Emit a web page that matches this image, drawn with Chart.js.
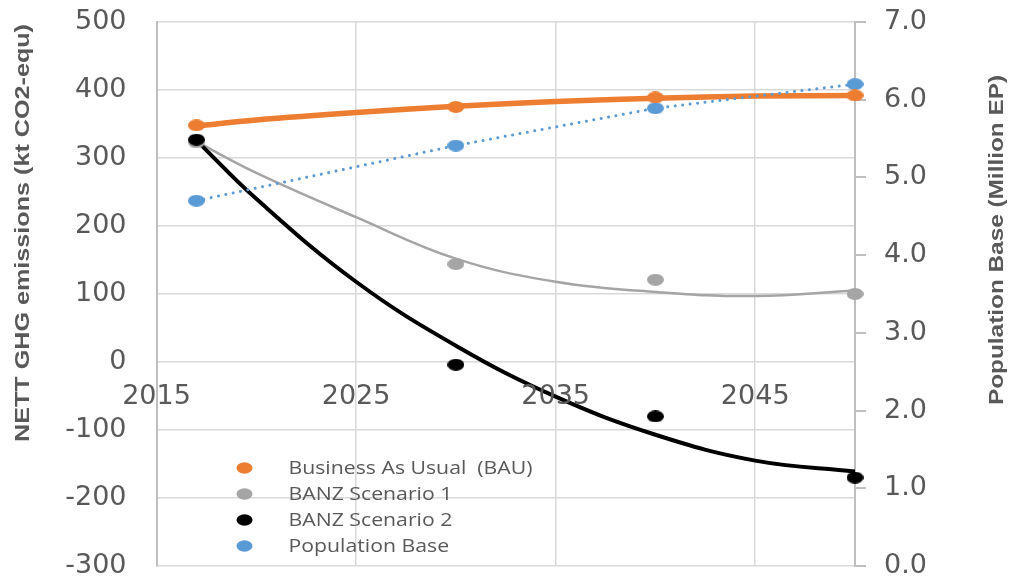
<!DOCTYPE html>
<html>
<head>
<meta charset="utf-8">
<script src="https://cdn.jsdelivr.net/npm/chart.js@4.4.1/dist/chart.umd.min.js"></script>
<style>
  html, body { margin: 0; padding: 0; background: #fff; }
  #wrap { width: 1016px; height: 584px; }
</style>
</head>
<body>
<div id="wrap"><canvas id="ghgChart"></canvas></div>
<script>
// values
const years = [2017, 2030, 2040, 2050];
const bauPoints = [348, 375, 389, 392];
const banz1Points = [323, 144, 121, 100];
const banz2Points = [327, -4, -80, -170];
const popPoints = [4.70, 5.41, 5.89, 6.20];

// trend lines (polynomial in the original), read at a few years
const trendYears = [2017, 2020, 2025, 2030, 2035, 2040, 2045, 2050];
const bauTrend = [347, 356, 367, 376, 383, 388, 391, 392];
const banz1Trend = [324, 278, 213, 152, 118, 103, 97, 105];
const banz2Trend = [326, 240, 118, 24, -51, -107, -145, -161];

const xTicks = [2015, 2025, 2035, 2045];
const legendNames = ["Business As Usual  (BAU)", "BANZ Scenario 1", "BANZ Scenario 2", "Population Base"];
const colors = ["#ED7D31", "#A5A5A5", "#000000", "#5B9BD5"];
const leftTitle = "NETT GHG emissions (kt CO2-equ)";
const rightTitle = "Population Base (Million EP)";

const textGrey = "#595959";
const tickFont = { family: "DejaVu Sans", size: 27 };

function toXY(xs, ys) {
  return xs.map((x, i) => ({ x: x, y: ys[i] }));
}

// markers in the picture are a bit wider than tall
function ellipseMarker(color) {
  const c = document.createElement("canvas");
  c.width = 17;
  c.height = 12;
  const g = c.getContext("2d");
  g.fillStyle = color;
  g.beginPath();
  g.ellipse(8.5, 6, 8.5, 6, 0, 0, Math.PI * 2);
  g.fill();
  return c;
}

function drawTitle(ctx, text, x, y, len) {
  ctx.save();
  ctx.font = 'bold 21px "Liberation Sans"';
  ctx.fillStyle = textGrey;
  ctx.textAlign = "center";
  ctx.textBaseline = "middle";
  ctx.translate(x, y);
  ctx.rotate(-Math.PI / 2);
  const w = ctx.measureText(text).width;
  ctx.scale(len / w, 1);
  ctx.fillText(text, 0, 0);
  ctx.restore();
}

// x labels sit under the zero line, legend inside the plot, and the two axis titles
const extras = {
  id: "extras",
  afterDraw(chart) {
    const { ctx, chartArea } = chart;
    const xs = chart.scales.x;
    const zeroY = chart.scales.y.getPixelForValue(0);

    ctx.save();
    ctx.font = '27px "DejaVu Sans"';
    ctx.fillStyle = textGrey;
    ctx.textAlign = "center";
    ctx.textBaseline = "alphabetic";
    xTicks.forEach((v) => {
      ctx.fillText(String(v), xs.getPixelForValue(v), zeroY + 42);
    });
    ctx.restore();

    ctx.save();
    ctx.font = '18px "Open Sans"';
    ctx.textBaseline = "alphabetic";
    legendNames.forEach((name, i) => {
      const y = chartArea.top + 446 + i * 26;
      ctx.fillStyle = colors[i];
      ctx.beginPath();
      ctx.ellipse(chartArea.left + 88, y, 8, 5.7, 0, 0, Math.PI * 2);
      ctx.fill();
      ctx.save();
      ctx.translate(chartArea.left + 132, y + 6);
      ctx.scale(1.18, 1);
      ctx.fillStyle = textGrey;
      ctx.fillText(name, 0, 0);
      ctx.restore();
    });
    ctx.restore();

    drawTitle(ctx, leftTitle, chartArea.left - 133, 233, 418);
    drawTitle(ctx, rightTitle, chartArea.right + 142, 240, 330);
  }
};

new Chart(document.getElementById("ghgChart"), {
  type: "scatter",
  data: {
    datasets: [
      {
        label: legendNames[2],
        data: toXY(years, banz2Points),
        pointStyle: ellipseMarker(colors[2]),
        yAxisID: "y",
        clip: false,
        order: 1
      },
      {
        label: legendNames[1],
        data: toXY(years, banz1Points),
        pointStyle: ellipseMarker(colors[1]),
        yAxisID: "y",
        clip: false,
        order: 2
      },
      {
        label: legendNames[0],
        data: toXY(years, bauPoints),
        pointStyle: ellipseMarker(colors[0]),
        yAxisID: "y",
        clip: false,
        order: 3
      },
      {
        label: legendNames[3],
        data: toXY(years, popPoints),
        pointStyle: ellipseMarker(colors[3]),
        yAxisID: "y2",
        showLine: true,
        borderColor: colors[3],
        borderWidth: 3,
        borderDash: [0.01, 7.5],
        borderCapStyle: "round",
        clip: false,
        order: 4
      },
      {
        label: "BANZ 2 trend",
        data: toXY(trendYears, banz2Trend),
        yAxisID: "y",
        showLine: true,
        pointRadius: 0,
        borderColor: colors[2],
        borderWidth: 4,
        tension: 0.4,
        order: 5
      },
      {
        label: "BANZ 1 trend",
        data: toXY(trendYears, banz1Trend),
        yAxisID: "y",
        showLine: true,
        pointRadius: 0,
        borderColor: colors[1],
        borderWidth: 2.5,
        tension: 0.4,
        order: 6
      },
      {
        label: "BAU trend",
        data: toXY(trendYears, bauTrend),
        yAxisID: "y",
        showLine: true,
        pointRadius: 0,
        borderColor: colors[0],
        borderWidth: 5.5,
        tension: 0.4,
        order: 7
      }
    ]
  },
  options: {
    responsive: true,
    maintainAspectRatio: false,
    animation: false,
    events: [],
    layout: { padding: { top: 22, bottom: 18, left: 0, right: 0 } },
    plugins: {
      legend: { display: false },
      tooltip: { enabled: false }
    },
    scales: {
      x: {
        type: "linear",
        min: 2015,
        max: 2050,
        position: "bottom",
        afterBuildTicks: (s) => { s.ticks = xTicks.map((v) => ({ value: v })); },
        grid: { color: "#d9d9d9", lineWidth: 1.5, drawTicks: false },
        border: { display: false },
        ticks: { display: false }
      },
      y: {
        position: "left",
        min: -300,
        max: 500,
        afterFit: (s) => { s.width = 156.5; },
        // invisible tick marks give the gap between axis and labels
        grid: { color: "#d9d9d9", lineWidth: 1.5, drawTicks: true, tickLength: 30, tickColor: "rgba(0,0,0,0)" },
        border: { color: "#bfbfbf", width: 2 },
        ticks: { stepSize: 100, color: textGrey, font: tickFont, padding: 0 }
      },
      y2: {
        position: "right",
        min: 0,
        max: 7,
        afterFit: (s) => { s.width = 161; },
        // only the first 10px of each tick mark is visible
        grid: {
          drawOnChartArea: false,
          color: "#bfbfbf",
          lineWidth: 2,
          tickLength: 29,
          tickBorderDash: [10, 100]
        },
        border: { color: "#bfbfbf", width: 2 },
        ticks: {
          stepSize: 1,
          color: textGrey,
          font: tickFont,
          padding: 0,
          callback: (v) => v.toFixed(1)
        }
      }
    }
  },
  plugins: [extras]
});
</script>
</body>
</html>
